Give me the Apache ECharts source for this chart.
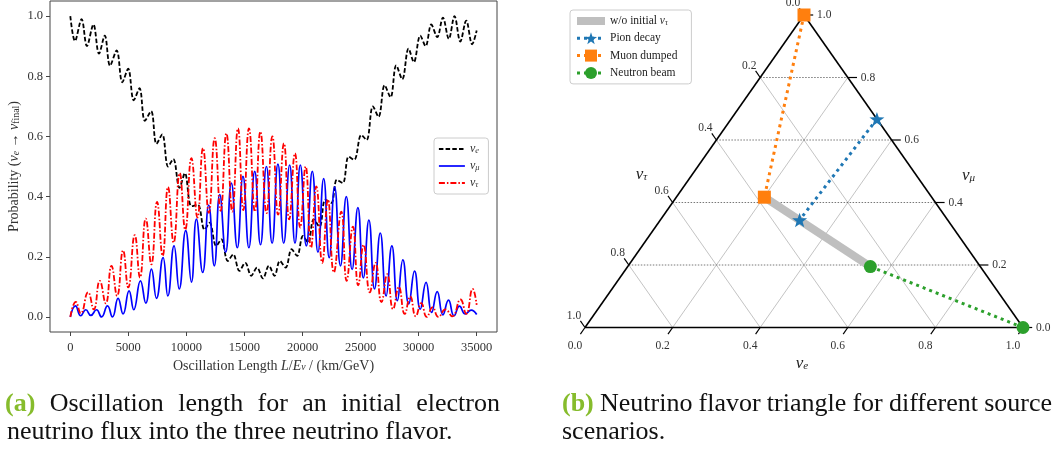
<!DOCTYPE html>
<html>
<head>
<meta charset="utf-8">
<title>Neutrino oscillation</title>
<script src="https://cdn.jsdelivr.net/npm/echarts@6.0.0/dist/echarts.min.js"></script>
<style>
html, body { margin: 0; padding: 0; background: #fff; }
#chart { width: 1062px; height: 451px; }
</style>
</head>
<body>
<div id="chart"></div>
<script>
const serif = '"Liberation Serif", "DejaVu Serif", serif';

// left panel axes
const lengthTicks = [0, 5000, 10000, 15000, 20000, 25000, 30000, 35000];
const probTicks = [0, 0.2, 0.4, 0.6, 0.8, 1.0];

// local maxima / minima: [L/E in km/GeV, probability]
const nuE = [[0,1.0],[400,0.917],[970,0.99],[1430,0.90],[1990,0.972],[2470,0.875],[2970,0.935],[3420,0.835],[3990,0.886],[4480,0.78],
  [4980,0.825],[5465,0.72],[5960,0.76],[6420,0.652],[6960,0.684],[7420,0.575],[7920,0.607],[8420,0.50],[8870,0.525],[9400,0.429],
  [9870,0.478],[10430,0.368],[10980,0.373],[11560,0.29],[12000,0.313],[12560,0.236],[13010,0.258],[13560,0.186],[14030,0.208],[14560,0.153],
  [15070,0.18],[15580,0.137],[16080,0.164],[16590,0.128],[17100,0.17],[17590,0.137],[18050,0.186],[18550,0.164],[19060,0.225],[19530,0.203],
  [20040,0.269],[20480,0.247],[20960,0.324],[21470,0.30],[21960,0.39],[22480,0.379],[22960,0.456],[23470,0.445],[23970,0.533],[24450,0.522],
  [25060,0.605],[25520,0.588],[26060,0.70],[26550,0.665],[27070,0.77],[27580,0.73],[28070,0.836],[28590,0.79],[29130,0.892],[29590,0.847],
  [30140,0.935],[30600,0.90],[31090,0.972],[31600,0.93],[32090,0.995],[32600,0.924],[33090,1.0],[33590,0.915],[34100,0.985],[34610,0.906],[35000,0.952]];

const nuMu = [[0,0],[447,0.037],[900,0.004],[1334,0.024],[1770,0.005],[2254,0.024],[2690,0.0],[3200,0.037],[3630,0.0],[4114,0.062],
  [4544,0.01],[5060,0.087],[5465,0.024],[6040,0.12],[6498,0.046],[6987,0.159],[7418,0.062],[7990,0.197],[8400,0.07],[8934,0.236],
  [9380,0.093],[9940,0.287],[10430,0.116],[10860,0.325],[11400,0.148],[11920,0.372],[12400,0.17],[12870,0.407],[13380,0.215],[13870,0.445],
  [14380,0.23],[14870,0.467],[15380,0.23],[15880,0.484],[16380,0.24],[16890,0.50],[17380,0.245],[17880,0.508],[18380,0.245],[18890,0.505],
  [19350,0.245],[19810,0.505],[20330,0.236],[20840,0.484],[21330,0.215],[21820,0.46],[22300,0.197],[22763,0.432],[23270,0.17],[23770,0.40],
  [24270,0.158],[24768,0.363],[25240,0.13],[25715,0.322],[26200,0.093],[26696,0.279],[27200,0.07],[27694,0.236],[28170,0.054],[28641,0.19],
  [29150,0.043],[29648,0.152],[30140,0.026],[30637,0.115],[31120,0.015],[31601,0.084],[32090,0.007],[32574,0.056],[33050,0.004],[33520,0.036],
  [34020,0.01],[34527,0.023],[35000,0.008]];

const nuTau = [[0,0],[473,0.05],[900,0.012],[1532,0.082],[2020,0.025],[2539,0.12],[3050,0.045],[3546,0.17],[4030,0.07],[4544,0.221],
  [4990,0.098],[5551,0.272],[6000,0.131],[6498,0.327],[6980,0.175],[7470,0.382],[7950,0.203],[8417,0.432],[8900,0.247],[9424,0.478],
  [9900,0.29],[10430,0.528],[10950,0.33],[11429,0.561],[11930,0.346],[12436,0.594],[12950,0.353],[13442,0.61],[13950,0.35],[14441,0.627],
  [14900,0.355],[15387,0.627],[15900,0.35],[16369,0.616],[16900,0.345],[17401,0.60],[17900,0.34],[18400,0.577],[18850,0.324],[19346,0.544],
  [19800,0.297],[20267,0.50],[20730,0.23],[21188,0.434],[21700,0.18],[22186,0.39],[22700,0.148],[23340,0.35],[23800,0.12],[24338,0.30],
  [24800,0.105],[25259,0.24],[25800,0.082],[26292,0.18],[26800,0.049],[27298,0.142],[27800,0.026],[28297,0.10],[28800,0.01],[29278,0.068],
  [29750,0.002],[30224,0.046],[30700,0.0],[31197,0.032],[31700,0.0],[32300,0.025],[32900,0.002],[33600,0.058],[34100,0.01],[34650,0.093],[35000,0.04]];

// flavour triangle
const ternaryGrid = [0.2, 0.4, 0.6, 0.8];
const ternaryTicks = [0, 0.2, 0.4, 0.6, 0.8, 1.0];
// (nu_e, nu_mu) of each source: at production, after oscillation
const pionDecay = [[0.333, 0.667], [0.318, 0.344]];
const muonDumped = [[0, 1], [0.201, 0.417]];
const neutronBeam = [[1, 0], [0.554, 0.195]];
const withoutTau = [[0.201, 0.417], [0.554, 0.195]];

// ternary (nu_e, nu_mu) -> cartesian
function toXY(p) {
    return [p[0] + p[1] / 2, p[1]];
}

const starPath = 'path://M0,-10L2.35,-3.24L9.51,-3.09L3.8,1.24L5.88,8.09L0,4L-5.88,8.09L-3.8,1.24L-9.51,-3.09L-2.35,-3.24Z';

function mathStyles(size) {
    const sub = Math.round(size * 0.7 * 10) / 10;
    return {
        nu: {fontFamily: serif, fontStyle: 'italic', fontSize: size, color: '#333'},
        it: {fontFamily: serif, fontStyle: 'italic', fontSize: size, color: '#333'},
        sub: {fontFamily: serif, fontStyle: 'italic', fontSize: sub, color: '#333', verticalAlign: 'bottom'},
        subr: {fontFamily: serif, fontSize: sub, color: '#333', verticalAlign: 'bottom'}
    };
}

function triangleFrame(params, api) {
    const c = (e, mu) => api.coord(toXY([e, mu]));
    const kids = [];
    const seg = (p, q, style) => kids.push({type: 'line', shape: {x1: p[0], y1: p[1], x2: q[0], y2: q[1]}, style: style});
    const txt = (p, dx, dy, text, align) => kids.push({
        type: 'text', x: p[0] + dx, y: p[1] + dy,
        style: {text: text, fill: '#333', font: '11.5px ' + serif, align: align, verticalAlign: 'middle'}
    });
    const thin = {stroke: '#9a9a9a', lineWidth: 0.6};
    ternaryGrid.forEach(v => {
        seg(c(v, 0), c(v, 1 - v), thin);
        seg(c(1 - v, 0), c(0, 1 - v), thin);
        seg(c(0, v), c(1 - v, v), {stroke: '#555', lineWidth: 0.8, lineDash: [1.5, 1.5]});
    });
    const edge = {stroke: '#000', lineWidth: 1.6};
    seg(c(0, 0), c(1, 0), edge);
    seg(c(1, 0), c(0, 1), edge);
    seg(c(0, 1), c(0, 0), edge);
    const tick = {stroke: '#000', lineWidth: 1.2};
    const t = 0.021;
    ternaryTicks.forEach(v => {
        const lab = v.toFixed(1);
        // nu_e along the bottom
        seg(c(v, 0), c(v, -t), tick);
        txt(c(v, 0), -10, 18, lab, 'center');
        // nu_tau along the left side
        seg(c(0, 1 - v), c(-t, 1 - v + t), tick);
        txt(c(0, 1 - v), -11, -12, lab, 'center');
        // nu_mu along the right side
        seg(c(1 - v, v), c(1 - v + t, v), tick);
        txt(c(1 - v, v), 13, 0, lab, 'left');
    });
    const title = (p, dx, dy, s) => kids.push({
        type: 'text', x: p[0] + dx, y: p[1] + dy,
        style: {
            text: '{n|ν}{s|' + s + '}', align: 'center', verticalAlign: 'middle',
            rich: {
                n: {fontFamily: serif, fontStyle: 'italic', fontSize: 17, fill: '#222'},
                s: {fontFamily: serif, fontStyle: 'italic', fontSize: 11, fill: '#222', verticalAlign: 'bottom'}
            }
        }
    });
    title(c(0.5, 0), -2, 36, 'e');
    title(c(0, 0.5), -53, 3, 'τ');
    title(c(0.5, 0.5), 55, 4, 'μ');
    return {type: 'group', children: kids};
}

// caption lines, the first one of each spread to the full column like the typeset page
const capFont = '26px ' + serif;
const capBold = 'bold 26px ' + serif;
const capGreen = '#86bc2c';
function captionLine(words, x0, x1, y) {
    const ctx = document.createElement('canvas').getContext('2d');
    const widths = words.map(w => {
        ctx.font = w.bold ? capBold : capFont;
        return ctx.measureText(w.text).width;
    });
    const used = widths.reduce((a, b) => a + b, 0);
    const gap = x1 ? (x1 - x0 - used) / (words.length - 1) : ctx.measureText(' ').width;
    let x = x0;
    return words.map((w, i) => {
        const el = {
            type: 'text', x: x, y: y,
            style: {text: w.text, font: w.bold ? capBold : capFont, fill: w.bold ? capGreen : '#111', verticalAlign: 'middle'}
        };
        x += widths[i] + gap;
        return el;
    });
}
const words = s => s.split(' ').map(t => ({text: t}));

const legendNames = {
    'nue': '{nu|ν}{sub|e}',
    'numu': '{nu|ν}{sub|μ}',
    'nutau': '{nu|ν}{sub|τ}',
    'w/o initial nu_tau': 'w/o initial {nu|ν}{sub|τ}'
};

let myChart = echarts.init(document.getElementById('chart'));
myChart.setOption({
    animation: false,
    grid: [
        {left: 50, top: 1, width: 447, height: 331, show: true, borderColor: '#444', borderWidth: 1, backgroundColor: 'transparent'},
        {left: 585, top: 15, width: 438, height: 312.5}
    ],
    xAxis: [
        {
            gridIndex: 0, type: 'value', min: -1750, max: 36750,
            axisLine: {show: false, onZero: false},
            splitLine: {show: false},
            axisTick: {show: true, customValues: lengthTicks, length: 4, lineStyle: {color: '#444'}},
            axisLabel: {customValues: lengthTicks, formatter: v => String(v), margin: 9, fontFamily: serif, fontSize: 12.5, color: '#333'},
            name: 'Oscillation Length {it|L}/{it|E}{sub|ν} / (km/GeV)',
            nameLocation: 'middle', nameGap: 25,
            nameTextStyle: {fontFamily: serif, fontSize: 14, color: '#333', rich: mathStyles(14)}
        },
        {gridIndex: 1, type: 'value', min: 0, max: 1, show: false}
    ],
    yAxis: [
        {
            gridIndex: 0, type: 'value', min: -0.05, max: 1.05,
            axisLine: {show: false, onZero: false},
            splitLine: {show: false},
            axisTick: {show: true, customValues: probTicks, length: 4, lineStyle: {color: '#444'}},
            axisLabel: {customValues: probTicks, formatter: v => v.toFixed(1), margin: 7, fontFamily: serif, fontSize: 12.5, color: '#333'},
            name: 'Probability ({nu|ν}{sub|e} → {nu|ν}{subr|final})',
            nameLocation: 'middle', nameGap: 29,
            nameTextStyle: {fontFamily: serif, fontSize: 14, color: '#333', rich: mathStyles(14)}
        },
        {gridIndex: 1, type: 'value', min: 0, max: 1, show: false}
    ],
    legend: [
        {
            data: ['nue', 'numu', 'nutau'],
            left: 434, top: 138, orient: 'vertical',
            itemWidth: 26, itemHeight: 12, itemGap: 5,
            padding: [5, 9, 5, 4],
            borderColor: '#ccc', borderWidth: 1, borderRadius: 3, backgroundColor: '#fff',
            lineStyle: {width: 'inherit'},
            itemStyle: {opacity: 0},
            formatter: n => legendNames[n],
            textStyle: {fontFamily: serif, fontSize: 12, color: '#333', rich: mathStyles(12)}
        },
        {
            data: [{name: 'w/o initial nu_tau', itemStyle: {opacity: 0}}, 'Pion decay', 'Muon dumped', 'Neutron beam'],
            left: 570, top: 10, orient: 'vertical',
            itemWidth: 28, itemHeight: 15, itemGap: 5.3,
            padding: [5, 14, 5, 3],
            borderColor: '#ccc', borderWidth: 1, borderRadius: 3, backgroundColor: '#fff',
            lineStyle: {width: 'inherit'},
            formatter: n => legendNames[n] || n,
            textStyle: {fontFamily: serif, fontSize: 11.5, color: '#222', rich: mathStyles(11.5)}
        }
    ],
    series: [
        {
            name: 'nue', type: 'line', xAxisIndex: 0, yAxisIndex: 0, data: nuE,
            symbol: 'none', smooth: 0.35, color: '#000',
            lineStyle: {color: '#000', width: 1.8, type: [4.5, 2.2]}
        },
        {
            name: 'numu', type: 'line', xAxisIndex: 0, yAxisIndex: 0, data: nuMu,
            symbol: 'none', smooth: 0.5, color: '#0000ff',
            lineStyle: {color: '#0000ff', width: 1.7}
        },
        {
            name: 'nutau', type: 'line', xAxisIndex: 0, yAxisIndex: 0, data: nuTau,
            symbol: 'none', smooth: 0.5, color: '#ff0000',
            lineStyle: {color: '#ff0000', width: 1.8, type: [6, 2, 1.5, 2]}
        },
        {
            type: 'custom', xAxisIndex: 1, yAxisIndex: 1, data: [[0, 0]],
            renderItem: triangleFrame, silent: true, z: 1
        },
        {
            name: 'w/o initial nu_tau', type: 'line', xAxisIndex: 1, yAxisIndex: 1,
            data: withoutTau.map(toXY), symbol: 'none', clip: false, z: 2, color: '#bfbfbf',
            lineStyle: {color: '#bfbfbf', width: 8}
        },
        {
            name: 'Pion decay', type: 'line', xAxisIndex: 1, yAxisIndex: 1,
            data: pionDecay.map(toXY), symbol: starPath, symbolSize: 15, symbolKeepAspect: true,
            clip: false, z: 3, color: '#1f77b4',
            itemStyle: {color: '#1f77b4'},
            lineStyle: {color: '#1f77b4', width: 3, type: [3, 4]}
        },
        {
            name: 'Muon dumped', type: 'line', xAxisIndex: 1, yAxisIndex: 1,
            data: muonDumped.map(toXY), symbol: 'rect', symbolSize: 13,
            clip: false, z: 3, color: '#ff7f0e',
            itemStyle: {color: '#ff7f0e'},
            lineStyle: {color: '#ff7f0e', width: 3, type: [3, 4]}
        },
        {
            name: 'Neutron beam', type: 'line', xAxisIndex: 1, yAxisIndex: 1,
            data: neutronBeam.map(toXY), symbol: 'circle', symbolSize: 13,
            clip: false, z: 3, color: '#2ca02c',
            itemStyle: {color: '#2ca02c'},
            lineStyle: {color: '#2ca02c', width: 3, type: [3, 4]}
        }
    ],
    graphic: [].concat(
        captionLine([{text: '(a)', bold: true}].concat(words('Oscillation length for an initial electron')), 5, 500, 404),
        captionLine(words('neutrino flux into the three neutrino flavor.'), 7, 0, 432),
        captionLine([{text: '(b)', bold: true}].concat(words('Neutrino flavor triangle for different source')), 562, 1052, 404),
        captionLine(words('scenarios.'), 562, 0, 432)
    )
});
</script>
</body>
</html>
